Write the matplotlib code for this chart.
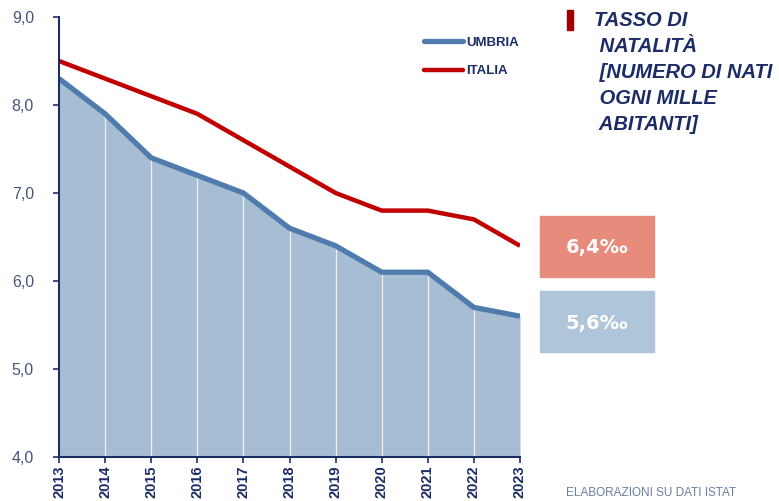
import matplotlib
matplotlib.use("Agg")
import matplotlib.pyplot as plt
from matplotlib.lines import Line2D
from matplotlib.patches import Rectangle
from matplotlib.ticker import FuncFormatter

years = [2013, 2014, 2015, 2016, 2017, 2018, 2019, 2020, 2021, 2022, 2023]
umbria = [8.3, 7.9, 7.4, 7.2, 7.0, 6.6, 6.4, 6.1, 6.1, 5.7, 5.6]
italia = [8.5, 8.3, 8.1, 7.9, 7.6, 7.3, 7.0, 6.8, 6.8, 6.7, 6.4]
series_names = ["UMBRIA", "ITALIA"]
last_labels = ["6,4\u2030", "5,6\u2030"]

navy = "#1c2c66"
tick_grey = "#45557f"
blue_line = "#4f7cac"
blue_fill = "#a7bdd4"
red_line = "#c00000"

fig = plt.figure(figsize=(7.79, 5.01), dpi=100)
ax = fig.add_axes([59 / 779, 44 / 501, 461 / 779, 440 / 501])

ax.fill_between(years, 4.0, umbria, color=blue_fill, lw=0, zorder=1)
# thin white separators at every year
for x, v in zip(years[1:-1], umbria[1:-1]):
    ax.plot([x, x], [4.0, v], color="white", lw=0.9, alpha=0.8, zorder=2)
ax.plot(years, umbria, color=blue_line, lw=3.8, solid_capstyle="butt", zorder=3)
ax.plot(years, italia, color=red_line, lw=3.2, solid_capstyle="butt", zorder=3)

ax.set_xlim(2013, 2023)
ax.set_ylim(4.0, 9.0)
ax.set_yticks([4, 5, 6, 7, 8, 9])
ax.yaxis.set_major_formatter(FuncFormatter(lambda v, p: f"{v:.1f}".replace(".", ",")))
ax.set_xticks(years)
ax.set_xticklabels([str(y) for y in years], rotation=90, fontweight="bold",
                   fontsize=10.5, color=navy, family="Liberation Sans")
for lab in ax.get_yticklabels():
    lab.set_fontsize(11.5)
    lab.set_color(tick_grey)
    lab.set_family("Liberation Sans")
ax.tick_params(axis="both", direction="out", length=4, width=1.2, color=navy)
ax.tick_params(axis="y", pad=14)
ax.tick_params(axis="x", pad=2)
for s in ["top", "right"]:
    ax.spines[s].set_visible(False)
for s in ["left", "bottom"]:
    ax.spines[s].set_color(navy)
    ax.spines[s].set_linewidth(1.5)
ax.spines["left"].set_zorder(5)

handles = [Line2D([], [], color=blue_line, lw=3.8, solid_capstyle="round"),
           Line2D([], [], color=red_line, lw=3.2, solid_capstyle="round")]
leg = fig.legend(handles, series_names, loc="upper left",
                 bbox_to_anchor=(412 / 779, 1 - 25 / 501), frameon=False,
                 handlelength=3.0, handletextpad=0.2, labelspacing=1.2,
                 prop={"family": "Liberation Sans", "weight": "bold", "size": 9.5})
for t in leg.get_texts():
    t.set_color(navy)

# title marker and title
fig.patches.append(Rectangle((567 / 779, 1 - 30 / 501), 6 / 779, 20 / 501,
                             transform=fig.transFigure, color="#a00000"))
title_lines = ["TASSO DI", " NATALIT\u00c0", " [NUMERO DI NATI", " OGNI MILLE", " ABITANTI]"]
for i, line in enumerate(title_lines):
    fig.text(594 / 779, 1 - (11 + 26 * i) / 501, line, ha="left", va="top",
             fontsize=14.5, fontweight="bold", fontstyle="italic", color=navy,
             family="Liberation Sans")

# value boxes
box_colors = ["#e78b7d", "#afc6da"]
box_tops = [216, 291]
for lab, c, top in zip(last_labels, box_colors, box_tops):
    fig.patches.append(Rectangle((540 / 779, 1 - (top + 61) / 501), 114 / 779, 61 / 501,
                                 transform=fig.transFigure, color=c))
    fig.text(597 / 779, 1 - (top + 32) / 501, lab, ha="center", va="center",
             fontsize=14, fontweight="bold", color="white", family="DejaVu Sans")

fig.text(566 / 779, 2 / 501, "ELABORAZIONI SU DATI ISTAT", ha="left", va="bottom",
         fontsize=8.5, color="#6a7ca0", family="Liberation Sans")

fig.savefig("out.png", dpi=100)
